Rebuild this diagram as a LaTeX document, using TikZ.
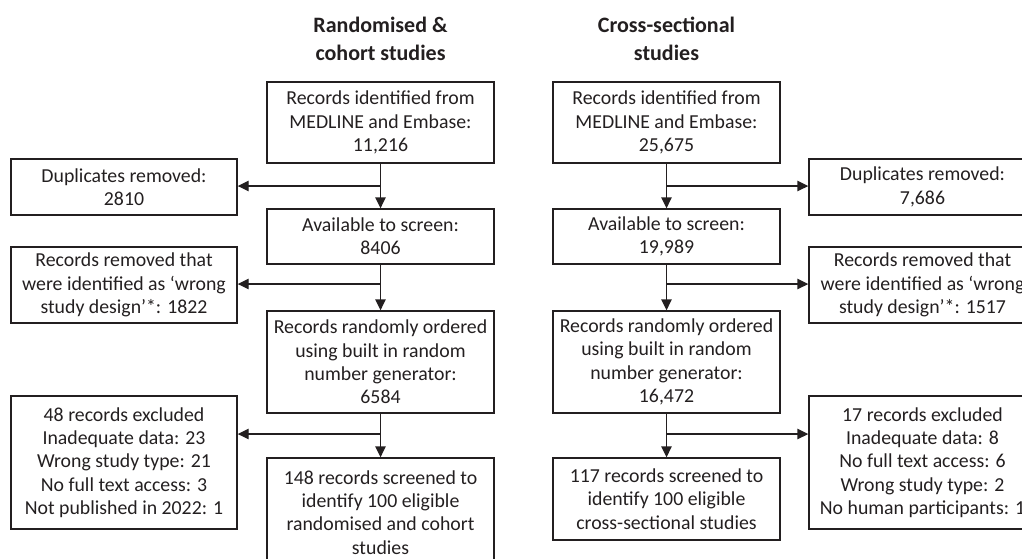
\documentclass[tikz,border=0pt]{standalone}
\usepackage{fontspec}
\setmainfont{Carlito}
\usetikzlibrary{arrows.meta,calc}
\definecolor{ink}{HTML}{231F20}
\tikzset{
  box/.style={draw=ink, line width=1.4pt, inner sep=0pt, align=center, text=ink,
    font=\fontsize{19.8}{23.3}\selectfont},
  title/.style={inner sep=0pt, align=center, text=ink,
    font=\fontsize{22}{28}\selectfont\bfseries},
  arr/.style={draw=ink, line width=1.4pt, -{Triangle[length=11pt,width=10.5pt]}}
}
\newcommand{\bx}[6]{% name, left, top, right, bottom, text
  \pgfmathsetmacro\bxw{#4-#2}\pgfmathsetmacro\bxh{#5-#3}%
  \pgfmathsetmacro\bxx{(#2+#4)/2}\pgfmathsetmacro\bxy{(#3+#5)/2}%
  \node[box, minimum width=\bxw pt, minimum height=\bxh pt] (#1) at (\bxx,\bxy) {#6};}
\begin{document}
\begin{tikzpicture}[x=1pt,y=-1pt]
\useasboundingbox (0,0) rectangle (1022,558);
\clip (0,0) rectangle (1022,558);
% titles
\node[title] (tl) at (380.5,38.5) {Randomised \&\\cohort studies};
\node[title] (tr) at (666.5,38.5) {Cross-sectional\\studies};
% left column
\bx{L1}{267}{82}{494}{163}{Records identified from\\MEDLINE and Embase:\\11,216}
\bx{L2}{267}{209}{494}{264}{Available to screen:\\8406}
\bx{L3}{267}{311}{494}{413}{Records randomly ordered\\using built in random\\number generator:\\6584}
\bx{L4}{267}{458}{494}{567}{148 records screened to\\identify 100 eligible\\randomised and cohort\\studies}
\bx{LD}{11}{159}{237}{215}{Duplicates removed:\\2810}
\bx{LR}{11}{247}{237}{323}{Records removed that\\were identified as ‘wrong\\study design’*: 1822}
\bx{LE}{11}{396}{237}{529}{48 records excluded\\Inadequate data: 23\\Wrong study type: 21\\No full text access: 3\\Not published in 2022: 1}
% right column
\bx{R1}{553}{82}{780}{163}{Records identified from\\MEDLINE and Embase:\\25,675}
\bx{R2}{553}{209}{780}{264}{Available to screen:\\19,989}
\bx{R3}{553}{311}{780}{413}{Records randomly ordered\\using built in random\\number generator:\\16,472}
\bx{R4}{553}{458}{780}{540}{117 records screened to\\identify 100 eligible\\cross-sectional studies}
\bx{RD}{809}{159}{1036}{215}{Duplicates removed:\\7,686}
\bx{RR}{809}{247}{1036}{323}{Records removed that\\were identified as ‘wrong\\study design’*: 1517}
\bx{RE}{809}{396}{1036}{529}{17 records excluded\\Inadequate data: 8\\No full text access: 6\\Wrong study type: 2\\No human participants: 1}
% branch points
\coordinate (lb1) at ($(L1.south)!0.5!(L2.north)$);
\coordinate (lb2) at (L2.south |- 0,284);
\coordinate (lb3) at (L3.south |- 0,434);
\coordinate (rb1) at ($(R1.south)!0.5!(R2.north)$);
\coordinate (rb2) at (R2.south |- 0,284);
\coordinate (rb3) at (R3.south |- 0,434);
% connectors left
\draw[arr] (L1.south) -- (L2.north);
\draw[arr] (L2.south) -- (L3.north);
\draw[arr] (L3.south) -- (L4.north);
\draw[arr] (lb1) -- (lb1 -| LD.east);
\draw[arr] (lb2) -- (lb2 -| LR.east);
\draw[arr] (lb3) -- (lb3 -| LE.east);
% connectors right
\draw[arr] (R1.south) -- (R2.north);
\draw[arr] (R2.south) -- (R3.north);
\draw[arr] (R3.south) -- (R4.north);
\draw[arr] (rb1) -- (rb1 -| RD.west);
\draw[arr] (rb2) -- (rb2 -| RR.west);
\draw[arr] (rb3) -- (rb3 -| RE.west);
\end{tikzpicture}
\end{document}
